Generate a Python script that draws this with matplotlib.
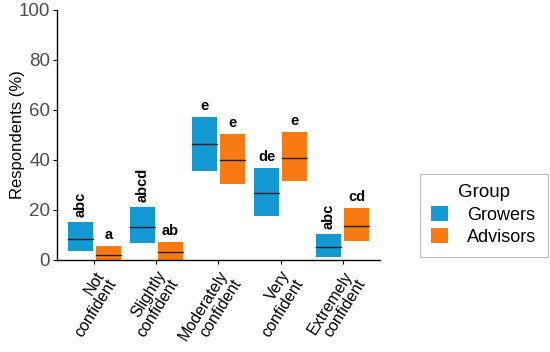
import matplotlib
matplotlib.use("Agg")
import matplotlib.pyplot as plt
from matplotlib.patches import Patch
import numpy as np

plt.rcParams['font.family'] = ['Liberation Sans', 'DejaVu Sans']

categories = ["Not\nconfident", "Slightly\nconfident", "Moderately\nconfident", "Very\nconfident", "Extremely\nconfident"]
groups = ["Growers", "Advisors"]
colors = ["#1499D3", "#F77B12"]

growers_low = [3.7, 6.9, 35.7, 17.6, 1.1]
growers_mid = [8.4, 13.3, 46.3, 26.7, 5.1]
growers_high = [15.3, 21.3, 57.1, 36.7, 10.3]
growers_letters = ["abc", "abcd", "e", "de", "abc"]

advisors_low = [0.0, 0.0, 30.3, 31.5, 7.6]
advisors_mid = [2.0, 3.1, 39.9, 40.9, 13.6]
advisors_high = [5.7, 7.1, 50.3, 51.1, 20.9]
advisors_letters = ["a", "ab", "e", "e", "cd"]

fig = plt.figure(figsize=(5.5, 3.52), dpi=100)
ax = fig.add_axes([0.1036, 0.2614, 0.5873, 0.7102])

x = np.arange(1, len(categories) + 1)
width = 0.4
offset = 0.225
series = [(growers_low, growers_mid, growers_high, growers_letters, -offset, colors[0]),
          (advisors_low, advisors_mid, advisors_high, advisors_letters, offset, colors[1])]
for low, mid, high, letters, off, col in series:
    for xi, lo, md, hi, lab in zip(x, low, mid, high, letters):
        xc = xi + off
        ax.bar(xc, hi - lo, bottom=lo, width=width, color=col, edgecolor='none')
        ax.plot([xc - width / 2, xc + width / 2], [md, md], color='#222222', lw=1.0)
        if len(lab) >= 3:
            ax.text(xc, hi + 2, lab, rotation=90, ha='center', va='bottom',
                    fontsize=10.5, fontweight='bold')
        else:
            ax.text(xc, hi + 1.5, lab, ha='center', va='bottom',
                    fontsize=10.5, fontweight='bold')

ax.set_xlim(0.4, 5.6)
ax.set_ylim(0, 100)
ax.set_yticks([0, 20, 40, 60, 80, 100])
ax.set_xticks(x)
ax.set_xticklabels(categories, rotation=58, ha='right', va='top',
                   rotation_mode='anchor', fontsize=11.5, linespacing=1.0)
ax.tick_params(axis='y', labelsize=13.5, labelcolor='#4d4d4d', length=3, width=0.8, pad=2)
ax.tick_params(axis='x', length=3, width=0.8, labelcolor='black', pad=3)
for s in ['top', 'right']:
    ax.spines[s].set_visible(False)
for s in ['left', 'bottom']:
    ax.spines[s].set_linewidth(1.0)
ax.set_ylabel("Respondents (%)", fontsize=12)
ax.yaxis.set_label_coords(-0.10, 0.5)

handles = [Patch(facecolor=c, edgecolor='none') for c in colors]
leg = fig.legend(handles, groups, title="Group", loc='center',
                 bbox_to_anchor=(0.88, 0.389), fontsize=13, title_fontsize=13.5,
                 frameon=True, fancybox=False, edgecolor='#aaaaaa',
                 handlelength=0.9, handleheight=0.9, handletextpad=1.1,
                 borderpad=0.6, labelspacing=0.25)
leg.get_frame().set_linewidth(0.8)

fig.savefig("out.png", dpi=100)
